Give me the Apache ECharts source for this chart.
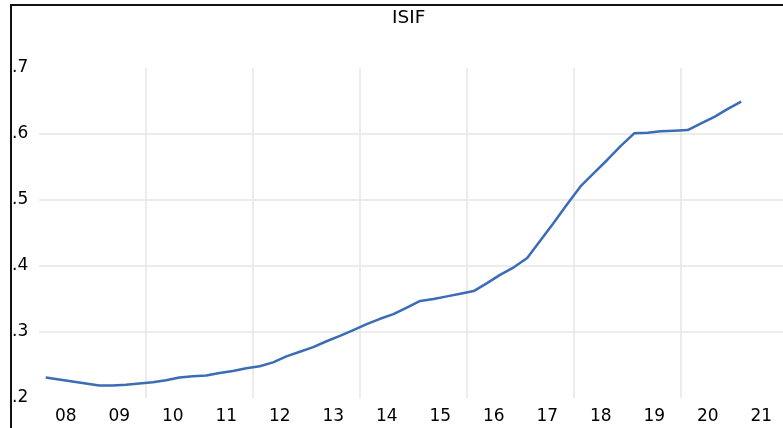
<!DOCTYPE html>
<html>
<head>
<meta charset="utf-8">
<title>ISIF</title>
<script src="https://cdn.jsdelivr.net/npm/echarts@6/dist/echarts.min.js"></script>
<style>
    html, body { margin: 0; padding: 0; background: #fff; }
    #wrap { position: relative; width: 783px; height: 428px; overflow: hidden; }
    /* chart canvas is wider than the picture: the plot runs past its right edge */
    #chart { position: absolute; left: 0; top: 0; width: 800px; height: 428px; }
    #frame {
        position: absolute; left: 10px; top: 4px; right: -4px; bottom: -4px;
        border-left: 2px solid #111; border-top: 2px solid #111;
        pointer-events: none;
    }
</style>
</head>
<body>
<div id="wrap">
    <div id="chart"></div>
    <div id="frame"></div>
</div>
<script>
//---数据定义区----------------------------------
var startYear = 2008;
var yearLabels = ['08', '09', '10', '11', '12', '13', '14', '15', '16', '17', '18', '19', '20', '21'];
var yTickLabels = ['.2', '.3', '.4', '.5', '.6', '.7'];
// quarterly, 2008Q1 - 2021Q1
var isifValues = [
    0.231, 0.228, 0.225, 0.222, 0.219, 0.219, 0.220, 0.222,
    0.224, 0.227, 0.231, 0.233, 0.234, 0.238, 0.241, 0.245,
    0.248, 0.254, 0.263, 0.270, 0.277, 0.286, 0.294, 0.303,
    0.312, 0.320, 0.327, 0.337, 0.347, 0.350, 0.354, 0.358,
    0.362, 0.374, 0.387, 0.398, 0.412, 0.439, 0.466, 0.494,
    0.521, 0.541, 0.561, 0.582, 0.601, 0.602, 0.604, 0.605,
    0.606, 0.616, 0.626, 0.638, 0.649
];
//----------------------------------------------

//---常量定义区----------------------------------
var FONT = '"DejaVu Sans", Verdana, sans-serif';
var TEXT_COLOR = '#000';
var GRID_COLOR = '#e6e6e6';
var LINE_COLOR = '#3b6cb6';
//----------------------------------------------

function buildSeriesData() {
    var out = [];
    for (var i = 0; i < isifValues.length; i++) {
        // each quarter is drawn at its middle
        out.push([startYear + (i + 0.5) / 4, isifValues[i]]);
    }
    return out;
}

function init() {
    var chart = echarts.init(document.getElementById('chart'), null, { renderer: 'canvas' });
    var endYear = startYear + yearLabels.length;

    var option = {
        animation: false,
        backgroundColor: '#fff',
        title: {
            text: 'ISIF',
            left: 392,
            top: 9,
            padding: 0,
            textStyle: { fontFamily: FONT, fontSize: 18.5, fontWeight: 'normal', color: TEXT_COLOR }
        },
        grid: { left: 39, width: 749, top: 68, height: 330, containLabel: false },
        xAxis: [{
            type: 'value',
            min: startYear,
            max: endYear,
            interval: 2,
            axisLine: { show: false },
            axisTick: { show: false },
            axisLabel: { show: false },
            splitLine: {
                show: true,
                showMinLine: false,
                showMaxLine: false,
                lineStyle: { color: GRID_COLOR, width: 1.5 }
            }
        }, {
            type: 'category',
            position: 'bottom',
            data: yearLabels,
            boundaryGap: true,
            axisLine: { show: false },
            axisTick: { show: false },
            splitLine: { show: false },
            axisLabel: {
                interval: 0,
                margin: 10,
                fontFamily: FONT,
                fontSize: 17,
                color: TEXT_COLOR
            }
        }],
        yAxis: {
            type: 'value',
            min: 0.2,
            max: 0.7,
            interval: 0.1,
            axisLine: { show: false },
            axisTick: { show: false },
            axisLabel: {
                margin: 27,
                align: 'left',
                fontFamily: FONT,
                fontSize: 17,
                color: TEXT_COLOR,
                formatter: function (v) {
                    return yTickLabels[Math.round((v - 0.2) * 10)];
                }
            },
            splitLine: {
                show: true,
                showMinLine: false,
                showMaxLine: false,
                lineStyle: { color: GRID_COLOR, width: 1.5 }
            }
        },
        series: [{
            type: 'line',
            xAxisIndex: 0,
            data: buildSeriesData(),
            showSymbol: false,
            smooth: false,
            lineStyle: { color: LINE_COLOR, width: 2.5 }
        }]
    };
    chart.setOption(option);
}

init();
</script>
</body>
</html>
